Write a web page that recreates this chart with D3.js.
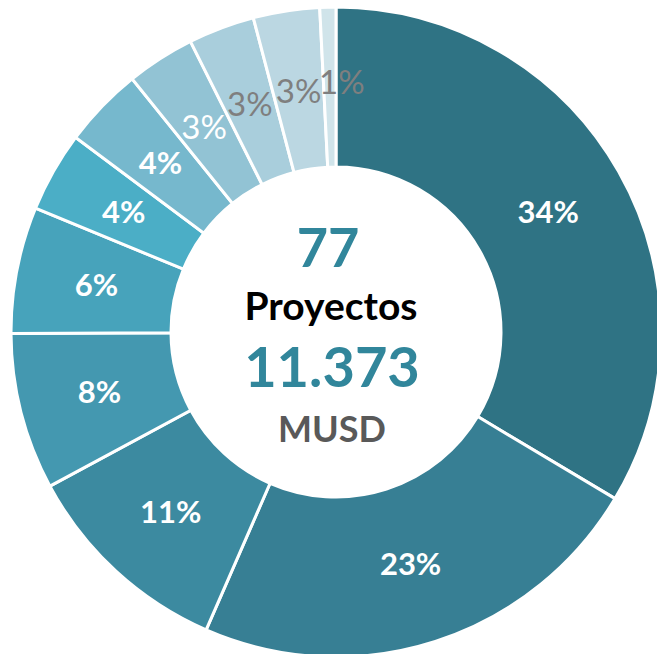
<!DOCTYPE html>
<html>
<head>
<meta charset="utf-8">
<script src="https://cdn.jsdelivr.net/npm/d3@7"></script>
<style>
html,body{margin:0;padding:0;background:#fff;}
svg{display:block;}
</style>
</head>
<body>
<svg id="chart" width="657" height="654"></svg>
<script>
// Data (shares of total, %)
const categories = ["C1","C2","C3","C4","C5","C6","C7","C8","C9","C10","C11"];
const values = [33.6, 23.0, 10.6, 7.8, 6.3, 4.0, 4.0, 3.4, 3.3, 3.3, 0.8];
const colors = ["#2F7384","#377F94","#3C8AA0","#4498B0","#47A3BB","#4BAEC6","#76B8CD","#92C3D4","#A9CEDC","#BBD7E2","#D0E4EA"];
const centerNumber = "77";
const centerLabel = "Proyectos";
const centerAmount = "11.373";
const centerUnit = "MUSD";

const svg = d3.select("#chart");
const cx = 336, cy = 332;
const outerR = 325, innerR = 165, labelR = 244;
const g = svg.append("g").attr("transform", `translate(${cx},${cy})`);

const data = categories.map((c, i) => ({cat: c, value: values[i], color: colors[i]}));
const total = d3.sum(values);
const pie = d3.pie().value(d => d.value).sort(null);
const arc = d3.arc().innerRadius(innerR).outerRadius(outerR);
const labelArc = d3.arc().innerRadius(labelR).outerRadius(labelR);
const arcs = pie(data);

g.selectAll("path.slice").data(arcs).enter().append("path")
  .attr("class", "slice")
  .attr("d", arc)
  .attr("fill", d => d.data.color)
  .attr("stroke", "#fff")
  .attr("stroke-width", 3);

const labelOffset = {10: [12, -6]};
g.selectAll("text.lbl").data(arcs).enter().append("text")
  .attr("class", "lbl")
  .attr("transform", (d, i) => {
    const [x, y] = labelArc.centroid(d);
    const o = labelOffset[i] || [0, 0];
    return `translate(${x + o[0]},${y + o[1]})`;
  })
  .attr("text-anchor", "middle")
  .attr("dy", "0.36em")
  .style("font-family", "Lato, 'Open Sans', sans-serif")
  .style("font-weight", (d, i) => i < 7 ? 700 : 400)
  .style("font-size", (d, i) => i < 7 ? "31px" : "33px")
  .attr("fill", (d, i) => i < 8 ? "#ffffff" : "#7F7F7F")
  .text(d => Math.round(d.data.value / total * 100) + "%");

const ct = svg.append("g").attr("text-anchor", "middle")
  .style("font-family", "Lato, 'Open Sans', sans-serif").style("font-weight", 700);
ct.append("text").attr("x", cx - 8).attr("y", 267).attr("fill", "#31869B")
  .style("font-size", "54px").text(centerNumber);
ct.append("text").attr("x", cx - 5).attr("y", 320).attr("fill", "#000")
  .style("font-size", "39px").text(centerLabel);
ct.append("text").attr("x", cx - 4).attr("y", 387).attr("fill", "#31869B")
  .style("font-size", "56px").text(centerAmount);
ct.append("text").attr("x", cx - 4).attr("y", 442).attr("fill", "#595959")
  .style("font-size", "36px").text(centerUnit);
</script>
</body>
</html>
